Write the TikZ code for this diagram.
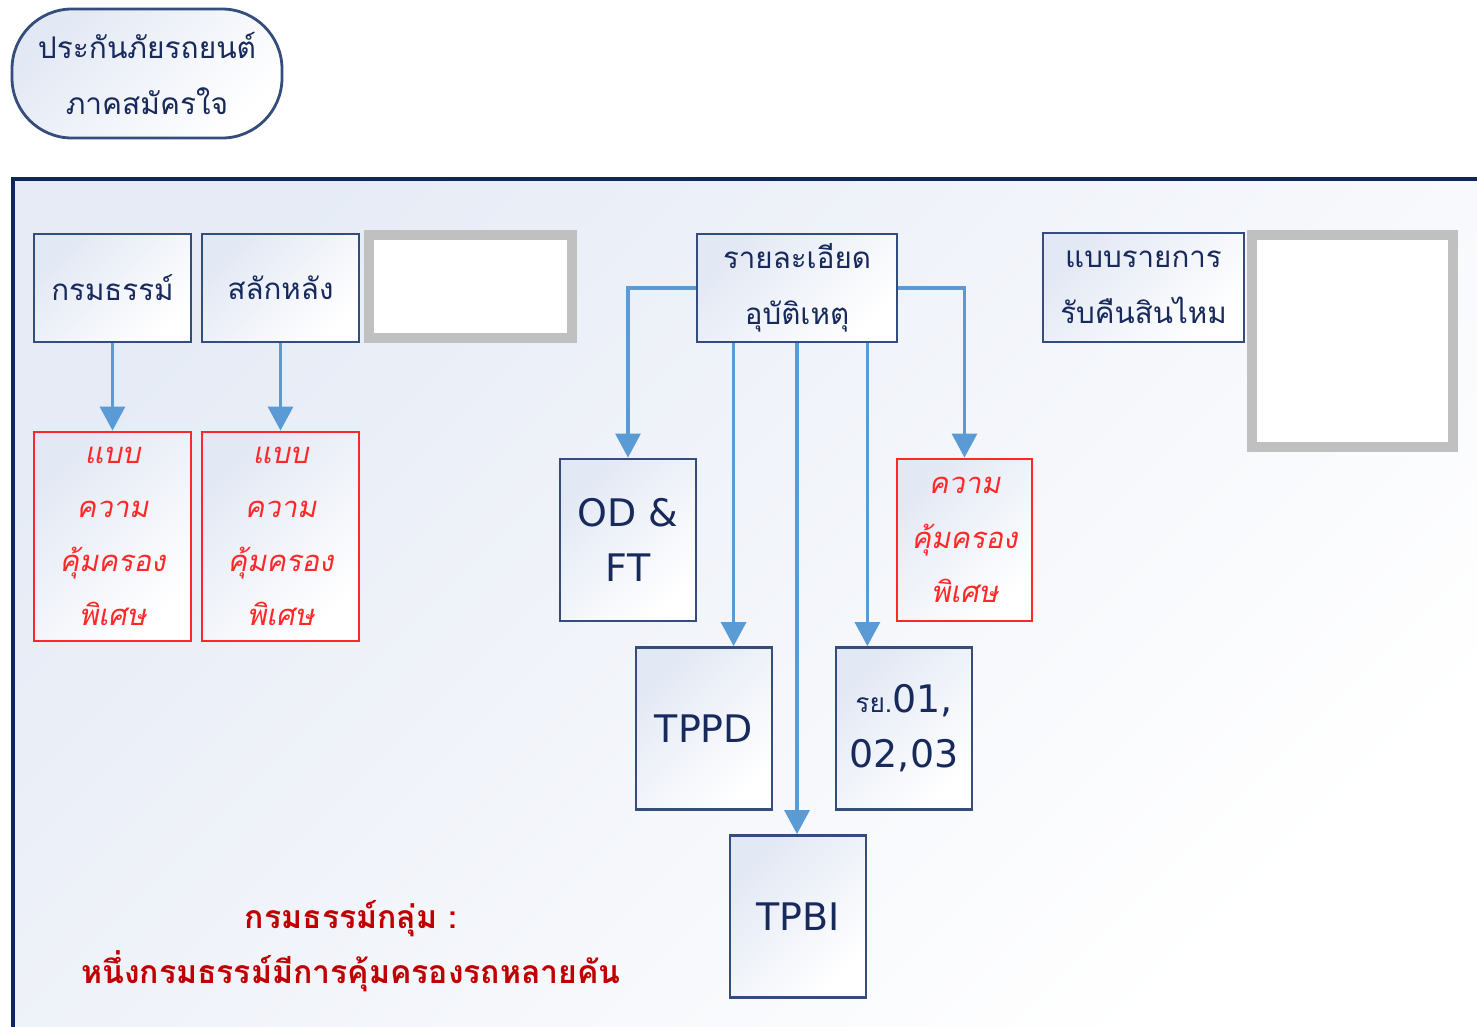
\documentclass[tikz,border=0pt]{standalone}
\usepackage{fontspec}
\usepackage{xcolor}
\usepackage{tikz}
\usetikzlibrary{arrows.meta, positioning}
\newfontfamily\thaifont[Script=Thai]{Loma}
\newfontfamily\thaislant[Script=Thai, FakeSlant=0.2]{Loma}
\newfontfamily\latinfont{DejaVu Sans}
\definecolor{framenavy}{RGB}{16, 38, 88}
\definecolor{boxborder}{RGB}{52, 77, 124}
\definecolor{boxtext}{RGB}{24, 42, 92}
\definecolor{boxtint}{RGB}{226, 232, 244}
\definecolor{linkblue}{RGB}{91, 155, 213}
\definecolor{alertred}{RGB}{255, 40, 40}
\definecolor{darkred}{RGB}{192, 0, 0}
\definecolor{emptygray}{RGB}{192, 192, 192}

\begin{document}
\begin{tikzpicture}[
    pillnode/.style={rectangle, draw=boxborder, top color=boxtint, bottom color=white, shading angle=45, rounded corners=6mm, line width=0.8pt, minimum width=2.7cm, minimum height=1.29cm, align=center, text=boxtext, font=\thaifont\fontsize{8.5}{16}\selectfont},
    topicnode/.style={rectangle, draw=boxborder, top color=boxtint, bottom color=white, shading angle=45, line width=0.8pt, inner sep=0pt, minimum width=1.57cm, minimum height=1.08cm, align=center, text=boxtext, font=\thaifont\fontsize{8.4}{16}\selectfont},
    extranode/.style={rectangle, draw=alertred, top color=boxtint, bottom color=white, shading angle=45, line width=0.8pt, inner sep=0pt, minimum width=1.57cm, minimum height=2.09cm, align=center, text=alertred, font=\thaislant\fontsize{8.3}{15.4}\selectfont},
    codenode/.style={rectangle, draw=boxborder, top color=boxtint, bottom color=white, shading angle=45, line width=0.8pt, inner sep=0pt, minimum width=1.36cm, minimum height=1.62cm, align=center, text=boxtext, font=\latinfont\fontsize{10.8}{15.6}\selectfont},
    emptynode/.style={rectangle, draw=emptygray, fill=white, line width=2.8pt, inner sep=0pt},
    arrow/.style={-{Triangle[length=2.4mm, width=2.5mm]}, line width=0.9pt, draw=linkblue}
]
    \useasboundingbox (0,0) rectangle (14.77,-10.27);
    \fill[white] (0,0) rectangle (14.77,-10.27);
    \shade[top color=boxtint!85, bottom color=white, shading angle=45] (0.13,-1.79) rectangle (14.77,-10.27);
    \draw[framenavy, line width=1.4pt] (0.13,-10.27) -- (0.13,-1.79) -- (14.77,-1.79);

    % Nodes
    \node[pillnode] (voluntary) at (1.47, -0.735) {ประกันภัยรถยนต์\\ภาคสมัครใจ};

    \node[topicnode] (policy) at (1.125, -2.88) {กรมธรรม์};
    \node[topicnode] (endorse) at (2.805, -2.88) {สลักหลัง};
    \node[emptynode, minimum width=2.03cm, minimum height=1.03cm] (blankleft) at (4.705, -2.865) {};
    \node[extranode] (policyextra) at (1.125, -5.365) {แบบ\\ความ\\คุ้มครอง\\พิเศษ};
    \node[extranode] (endorseextra) at (2.805, -5.365) {แบบ\\ความ\\คุ้มครอง\\พิเศษ};

    \node[topicnode, minimum width=2.0cm] (detail) at (7.97, -2.88) {รายละเอียด\\อุบัติเหตุ};
    \node[codenode] (odft) at (6.28, -5.40) {OD \&\\FT};
    \node[extranode, minimum width=1.35cm, minimum height=1.62cm] (detailextra) at (9.645, -5.40) {ความ\\คุ้มครอง\\พิเศษ};
    \node[codenode] (tppd) at (7.04, -7.285) {TPPD};
    \node[codenode] (ry) at (9.04, -7.285) {{\thaifont\fontsize{7.5}{10}\selectfont รย.}01,\\02,03};
    \node[codenode] (tpbi) at (7.98, -9.165) {TPBI};

    \node[topicnode, minimum width=2.01cm, minimum height=1.09cm] (claimform) at (11.435, -2.875) {แบบรายการ\\รับคืนสินไหม};
    \node[emptynode, minimum width=2.01cm, minimum height=2.12cm] (blankright) at (13.525, -3.41) {};

    \node[align=center, text=darkred, font=\thaifont\bfseries\fontsize{9.1}{15.6}\selectfont] (groupnote) at (3.51, -9.46) {กรมธรรม์กลุ่ม :\\หนึ่งกรมธรรม์มีการคุ้มครองรถหลายคัน};

    % Edges
    \draw[arrow] (policy) -- (policyextra);
    \draw[arrow] (endorse) -- (endorseextra);
    \draw[arrow] (detail.west) -| (odft);
    \draw[arrow] (detail.east) -| (detailextra);
    \draw[arrow] ([xshift=3.8mm]detail.south west) -- ([xshift=3.8mm]detail.south west |- tppd.north);
    \draw[arrow] (detail.south) -- (detail.south |- tpbi.north);
    \draw[arrow] ([xshift=-3.1mm]detail.south east) -- ([xshift=-3.1mm]detail.south east |- ry.north);
\end{tikzpicture}
\end{document}
